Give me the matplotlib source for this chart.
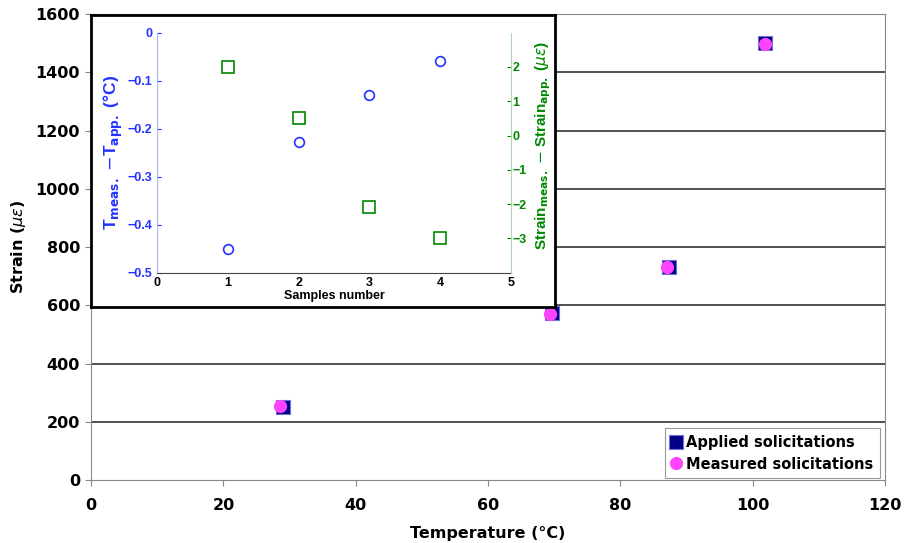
import matplotlib
matplotlib.use("Agg")
import matplotlib.pyplot as plt

# main chart data
temp_applied = [29.0, 69.7, 87.3, 101.9]
strain_applied = [252, 572, 731, 1500]
temp_measured = [28.6, 69.4, 87.1, 101.8]
strain_measured = [254, 570, 730, 1498]

# inset data
samples = [1, 2, 3, 4]
dT = [-0.45, -0.228, -0.13, -0.058]
dStrain = [2.0, 0.5, -2.08, -3.0]

fig = plt.figure(figsize=(9.05, 5.43), dpi=100)

ax = fig.add_axes([0.1006, 0.116, 0.8774, 0.858])
ax.set_xlim(0, 120)
ax.set_ylim(0, 1600)
ax.set_xticks(range(0, 121, 20))
ax.set_yticks(range(0, 1601, 200))
for y in range(200, 1600, 200):
    ax.axhline(y, color="#222222", lw=1.1, zorder=1)
for s in ax.spines.values():
    s.set_color("#888888")
ax.tick_params(direction="out", length=4, color="#888888", labelsize=11.5, pad=4)
ax.tick_params(axis="x", pad=9)
for lab in ax.get_xticklabels() + ax.get_yticklabels():
    lab.set_fontweight("bold")
ax.set_xlabel("Temperature (°C)", fontsize=11.5, fontweight="bold", labelpad=9)
ax.set_ylabel(r"Strain ($\mu\varepsilon$)", fontsize=11.5, fontweight="bold")
ax.yaxis.set_label_coords(-0.079, 0.5)

ax.plot(temp_applied, strain_applied, ls="none", marker="s", ms=10,
        mfc="#000088", mec="#7070d0", mew=0.8, label="Applied solicitations", zorder=3)
ax.plot(temp_measured, strain_measured, ls="none", marker="o", ms=8.5,
        mfc="#ff44ff", mec="#ff44ff", label="Measured solicitations", zorder=4)
leg = ax.legend(loc="lower right", bbox_to_anchor=(0.993, 0.004), fancybox=False,
                framealpha=1, edgecolor="#999999", handlelength=0.6, handletextpad=0.35,
                borderpad=0.45, labelspacing=0.45, borderaxespad=0,
                prop={"weight": "bold", "size": 10.5})
leg.get_frame().set_linewidth(0.8)

# inset frame
frame = fig.add_axes([0.1006, 0.4346, 0.5127, 0.5378])
frame.set_xticks([])
frame.set_yticks([])
for s in frame.spines.values():
    s.set_color("black")
    s.set_linewidth(2)
frame.set_zorder(5)

blue = "#2233ff"
green = "#008800"
ia = fig.add_axes([0.1735, 0.4978, 0.3911, 0.442])
ia.set_zorder(6)
ia.patch.set_alpha(0)
ia.set_xlim(0, 5)
ia.set_ylim(-0.5, 0)
ia.set_xticks(range(0, 6))
ia.set_yticks([-0.5, -0.4, -0.3, -0.2, -0.1, 0])
ia.set_yticklabels(["\u22120.5", "\u22120.4", "\u22120.3", "\u22120.2", "\u22120.1", "0"])
ia.plot(samples, dT, ls="none", marker="o", ms=7, mfc="none", mec=blue, mew=1.2)
ia.spines["top"].set_visible(False)
ia.spines["right"].set_visible(False)
ia.spines["left"].set_color("#aab4ff")
ia.spines["bottom"].set_color("#444444")
ia.tick_params(axis="y", colors=blue, labelsize=9, length=3, direction="in")
ia.tick_params(axis="x", labelsize=9, length=0, pad=3)
for lab in ia.get_xticklabels() + ia.get_yticklabels():
    lab.set_fontweight("bold")
    lab.set_family("Liberation Sans")
ia.set_xlabel("Samples number", fontsize=9, fontweight="bold", family="Liberation Sans", labelpad=1)
ia.set_ylabel(r"T$_{\mathbf{meas.}}$ $-$T$_{\mathbf{app.}}$ (°C)", color=blue, fontsize=12.5,
              fontweight="bold", family="Liberation Sans", labelpad=2)

ib = ia.twinx()
ib.set_zorder(7)
ib.set_ylim(-4, 3)
ib.set_yticks([-3, -2, -1, 0, 1, 2])
ib.set_yticklabels(["\u22123", "\u22122", "\u22121", "0", "1", "2"])
ib.plot(samples, dStrain, ls="none", marker="s", ms=8, mfc="none", mec=green, mew=1.2)
for k in ["top", "left", "bottom"]:
    ib.spines[k].set_visible(False)
ib.spines["right"].set_color("#b0d8b0")
ib.tick_params(axis="y", colors=green, labelsize=9, length=3, direction="in", pad=1)
for lab in ib.get_yticklabels():
    lab.set_fontweight("bold")
    lab.set_family("Liberation Sans")
ib.set_ylabel(r"Strain$_{\mathbf{meas.}}$ $-$ Strain$_{\mathbf{app.}}$ ($\mu\varepsilon$)",
              color=green, fontsize=11, fontweight="bold", family="Liberation Sans",
              rotation=90)
ib.yaxis.set_label_coords(1.063, 0.53)

fig.savefig("out.png", dpi=100)
